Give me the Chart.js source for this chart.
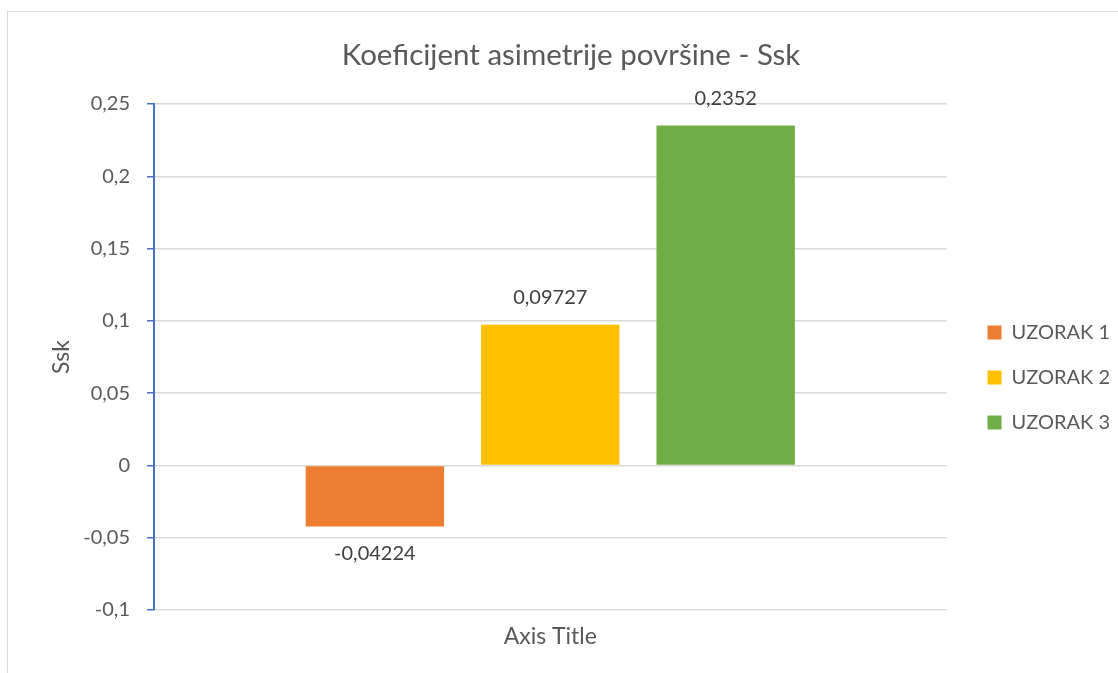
<!DOCTYPE html>
<html>
<head>
<meta charset="utf-8">
<script src="https://cdn.jsdelivr.net/npm/chart.js@4"></script>
<style>
  html, body { margin: 0; padding: 0; background: #fff; overflow: hidden; }
  #frame { position: absolute; left: 7px; top: 11px; width: 1200px; height: 700px;
           border-left: 1px solid #d9d9d9; border-top: 1px solid #d9d9d9; }
  #chart { position: absolute; left: 8px; top: 12px; }
</style>
</head>
<body>
<div id="frame"></div>
<canvas id="chart" width="1142" height="661"></canvas>
<script>
const categories = [''];
const seriesNames = ['UZORAK 1', 'UZORAK 2', 'UZORAK 3'];
const seriesValues = [-0.04224, 0.09727, 0.2352];
const valueLabels = ['-0,04224', '0,09727', '0,2352'];
const seriesColors = ['#ED7D31', '#FFC000', '#70AD47'];
const yTicks = [-0.1, -0.05, 0, 0.05, 0.1, 0.15, 0.2, 0.25];

const FONT = 'Lato, "Noto Sans", sans-serif';
const grey = '#595959';

// draws value labels at the end of each bar
const barLabels = {
  id: 'barLabels',
  afterDatasetsDraw(chart) {
    const ctx = chart.ctx;
    ctx.save();
    ctx.font = '20px ' + FONT;
    ctx.fillStyle = '#404040';
    ctx.textAlign = 'center';
    ctx.textBaseline = 'middle';
    chart.data.datasets.forEach((ds, i) => {
      const bar = chart.getDatasetMeta(i).data[0];
      const v = ds.data[0];
      const y = v >= 0 ? bar.y - 27 : bar.y + 27;
      ctx.fillText(valueLabels[i], bar.x, y);
    });
    ctx.restore();
  }
};

new Chart(document.getElementById('chart'), {
  type: 'bar',
  data: {
    labels: categories,
    datasets: seriesNames.map((name, i) => ({
      label: name,
      data: [seriesValues[i]],
      backgroundColor: seriesColors[i],
      categoryPercentage: 0.664,
      barPercentage: 0.789
    }))
  },
  options: {
    responsive: false,
    animation: false,
    layout: { padding: { left: 14, right: 30, top: 0, bottom: 23 } },
    plugins: {
      title: {
        display: true,
        text: 'Koeficijent asimetrije površine - Ssk',
        color: grey,
        font: { family: FONT, size: 29.5, weight: 'normal' },
        padding: { top: 25.3, bottom: 31.3 }
      },
      legend: {
        position: 'right',
        title: {
          display: true,
          text: '',
          font: { size: 12 },
          padding: { top: 78.6, bottom: 0 }
        },
        labels: {
          color: grey,
          font: { family: FONT, size: 20 },
          boxWidth: 14,
          boxHeight: 14,
          padding: 25
        }
      },
      tooltip: { enabled: false }
    },
    scales: {
      x: {
        grid: { display: false },
        border: { display: false },
        ticks: { display: false },
        title: {
          display: true,
          text: 'Axis Title',
          color: grey,
          font: { family: FONT, size: 23 },
          padding: { top: 4, bottom: 0 }
        },
        afterFit(s) { s.height = 40; }
      },
      y: {
        min: yTicks[0],
        max: yTicks[yTicks.length - 1],
        afterBuildTicks(s) { s.ticks = yTicks.map(v => ({ value: v })); },
        ticks: {
          color: grey,
          font: { family: FONT, size: 20 },
          padding: 17,
          callback: v => String(Math.round(v * 100) / 100).replace('.', ',')
        },
        grid: {
          color: '#d9d9d9',
          lineWidth: 1.5,
          tickLength: 7,
          tickColor: '#4472C4',
          tickWidth: 1.5
        },
        border: { color: '#4472C4', width: 2 },
        title: {
          display: true,
          text: 'Ssk',
          color: grey,
          font: { family: FONT, size: 23 },
          padding: { top: 26, bottom: 0 }
        },
        afterFit(s) { s.width = 132; }
      },
      y2: {
        position: 'right',
        grid: { display: false, drawTicks: false },
        border: { display: false },
        ticks: { display: false },
        afterFit(s) { s.width = 16; }
      }
    }
  },
  plugins: [barLabels]
});
</script>
</body>
</html>
